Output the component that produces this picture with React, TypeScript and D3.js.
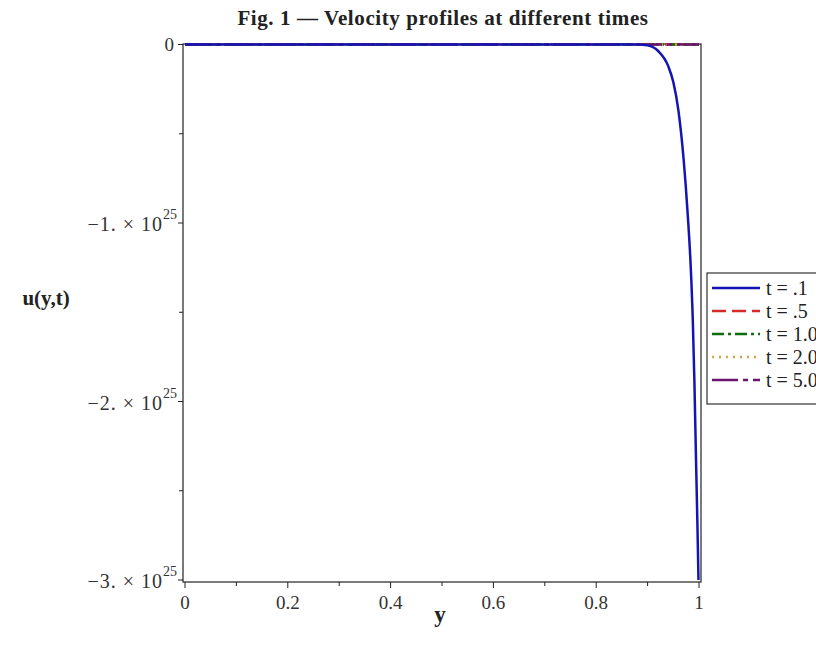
import * as d3 from "d3";

// blue curve (t = .1), y position and u value in units of 1e25
const yPos = [0, 0.2, 0.4, 0.6, 0.8, 0.88, 0.9, 0.92, 0.94, 0.95, 0.96, 0.97, 0.978, 0.984, 0.988, 0.991, 0.994, 0.997, 0.999];
const uT01 = [0, 0, 0, 0, 0, 0, -0.005, -0.035, -0.12, -0.21, -0.37, -0.64, -0.95, -1.25, -1.55, -1.88, -2.3, -2.7, -3.0];

// other times stay on zero
const flatPos = [0, 1];
const flatU = [0, 0];

const legendLabels = ["t = .1", "t = .5", "t = 1.0", "t = 2.0", "t = 5.0"];
const legendColors = ["#1414b4", "#d42a2a", "#0a6e0a", "#d9a441", "#6a1470"];
const legendDash = ["", "14,6", "12,4,3,4", "2,5", "26,5,5,5"];

const xTicks = [0, 0.2, 0.4, 0.6, 0.8, 1];
const xMinor = [0.1, 0.3, 0.5, 0.7, 0.9];
const yTicks = [0, -1, -2, -3];
const yMinor = [-0.5, -1.5, -2.5];

const W = 816;
const H = 647;
const serif = "'Liberation Serif', 'DejaVu Serif', serif";

export default function App() {
  const x = d3.scaleLinear().domain([0, 1]).range([185, 699]);
  const y = d3.scaleLinear().domain([-3, 0]).range([580, 44.5]);

  const line = d3
    .line<number>()
    .x((d, i) => x(yPos[i]))
    .y((d) => y(d))
    .curve(d3.curveMonotoneX);

  const flatLine = d3
    .line<number>()
    .x((d, i) => x(flatPos[i]))
    .y((d) => y(d));

  const left = 183;
  const right = 701;
  const top = 44;
  const bottom = 582;

  return (
    <svg
      width={W}
      height={H}
      style={{ position: "absolute", left: 0, top: 0, background: "#fff" }}
      fontFamily={serif}
    >
      <text x={443} y={25} textAnchor="middle" fontSize={21} fontWeight="bold" fill="#222" letterSpacing={0.6}>
        Fig. 1 — Velocity profiles at different times
      </text>

      {/* frame */}
      <rect x={left} y={top} width={right - left} height={bottom - top} fill="none" stroke="#222" strokeWidth={1.2} />

      {/* x ticks */}
      {xTicks.map((t) => (
        <g key={"x" + t}>
          <line x1={x(t)} x2={x(t)} y1={bottom} y2={bottom + 6} stroke="#222" />
          <text x={x(t)} y={bottom + 27} textAnchor="middle" fontSize={19} fill="#333">
            {t === 0 || t === 1 ? String(t) : t.toFixed(1)}
          </text>
        </g>
      ))}
      {xMinor.map((t) => (
        <line key={"xm" + t} x1={x(t)} x2={x(t)} y1={bottom} y2={bottom + 4} stroke="#222" />
      ))}

      {/* y ticks */}
      {yTicks.map((t) => (
        <g key={"y" + t}>
          <line x1={left - 5} x2={left} y1={y(t)} y2={y(t)} stroke="#222" />
          {t === 0 ? (
            <text x={left - 9} y={y(t) + 6} textAnchor="end" fontSize={19} fill="#333">
              0
            </text>
          ) : (
            <text x={left - 6} y={y(t) + 8} textAnchor="end" fontSize={20} fill="#333" letterSpacing={1}>
              {"\u2212" + Math.abs(t) + ". \u00d7 10"}
              <tspan dy={-12} fontSize={14} letterSpacing={0}>25</tspan>
            </text>
          )}
        </g>
      ))}
      {yMinor.map((t) => (
        <line key={"ym" + t} x1={left - 4} x2={left} y1={y(t)} y2={y(t)} stroke="#222" />
      ))}

      {/* curves */}
      {legendColors.slice(1).map((c, i) => (
        <path
          key={"f" + i}
          d={flatLine(flatU) || ""}
          fill="none"
          stroke={c}
          strokeWidth={2.5}
          strokeDasharray={legendDash[i + 1]}
        />
      ))}
      <path d={line(uT01) || ""} fill="none" stroke={legendColors[0]} strokeWidth={2.5} />

      {/* axis labels */}
      <text x={46} y={305} textAnchor="middle" fontSize={21} fontWeight="bold" fill="#222">
        u(y,t)
      </text>
      <text x={440} y={622} textAnchor="middle" fontSize={23} fontWeight="bold" fill="#222">
        y
      </text>

      {/* legend */}
      <rect x={707} y={273} width={130} height={131} fill="#fff" stroke="#333" strokeWidth={1.2} />
      {legendLabels.map((l, i) => {
        const ly = 288 + i * 23;
        return (
          <g key={l}>
            <line
              x1={712}
              x2={760}
              y1={ly}
              y2={ly}
              stroke={legendColors[i]}
              strokeWidth={2.5}
              strokeDasharray={legendDash[i]}
            />
            <text x={766} y={ly + 7} fontSize={20} fill="#222">
              {l}
            </text>
          </g>
        );
      })}
    </svg>
  );
}
